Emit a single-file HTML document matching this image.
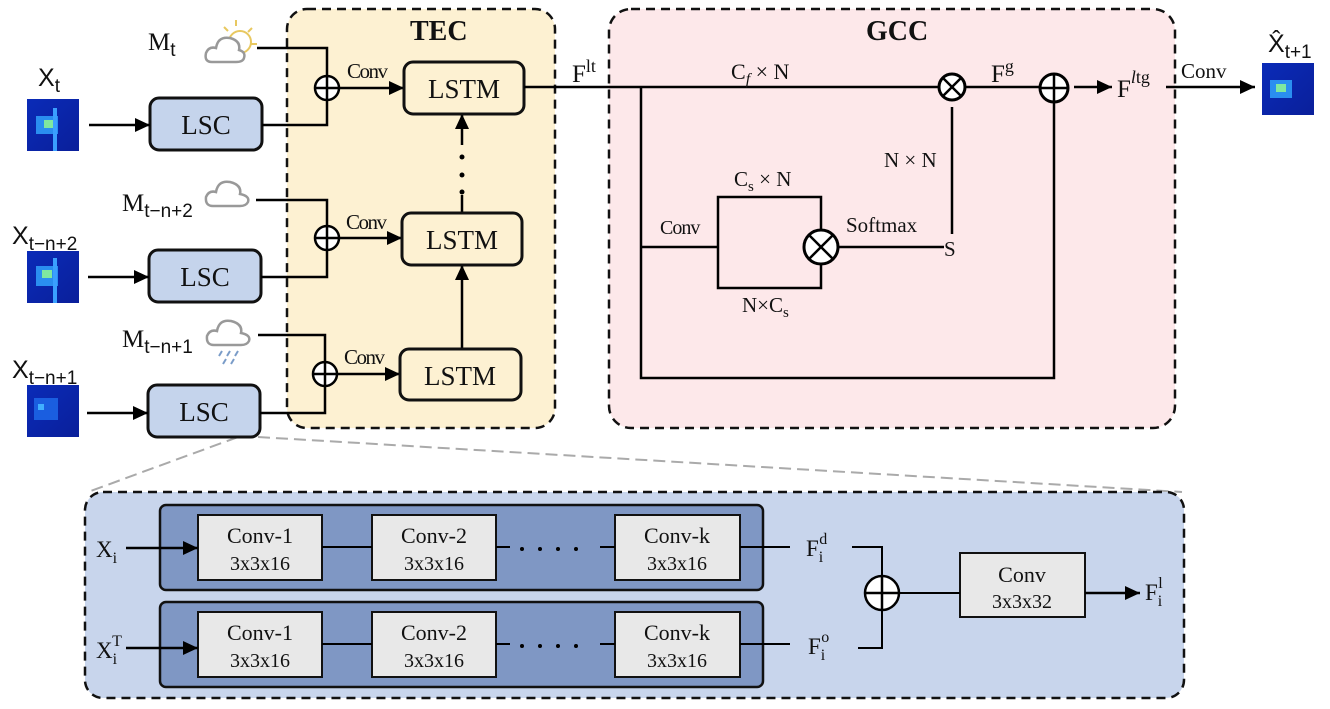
<!DOCTYPE html>
<html><head><meta charset="utf-8"><style>
body{margin:0;background:#fff}
svg{display:block}
text{font-family:"Liberation Serif",serif;fill:#111}
</style></head><body>
<svg width="1330" height="709" viewBox="0 0 1330 709" xmlns="http://www.w3.org/2000/svg">
<defs>
<marker id="b" markerWidth="16" markerHeight="16" refX="15" refY="7" orient="auto" markerUnits="userSpaceOnUse"><path d="M0,0 L15,7 L0,14z" fill="#000"/></marker>
<linearGradient id="hm" x1="0" y1="0" x2="1" y2="1"><stop offset="0" stop-color="#0a2bb8"/><stop offset="1" stop-color="#0a1f9a"/></linearGradient>
</defs>
<rect x="287" y="9" width="268" height="419" rx="20" fill="#fdf1d2" stroke="#111" stroke-width="2.5" stroke-dasharray="9,6"/>
<rect x="609" y="9" width="566" height="419" rx="22" fill="#fde8ea" stroke="#111" stroke-width="2.5" stroke-dasharray="9,6"/>
<text x="410" y="40" font-size="28" font-weight="bold">TEC</text>
<text x="866" y="40" font-size="28" font-weight="bold">GCC</text>
<line x1="238" y1="437" x2="88" y2="492" stroke="#aaa" stroke-width="2" stroke-dasharray="12,6"/>
<line x1="258" y1="437" x2="1182" y2="492" stroke="#aaa" stroke-width="2" stroke-dasharray="12,6"/>
<g>
<rect x="27" y="99" width="52" height="52" fill="url(#hm)"/><rect x="36" y="116" width="22" height="18" fill="#2a8ef0"/><rect x="44" y="120" width="10" height="8" fill="#7fe8a0"/><rect x="53" y="108" width="4" height="43" fill="#3aa0ff"/>
<rect x="27" y="251" width="52" height="52" fill="url(#hm)"/><rect x="36" y="266" width="22" height="20" fill="#2a8ef0"/><rect x="42" y="270" width="10" height="8" fill="#7fe8a0"/><rect x="53" y="258" width="4" height="45" fill="#3aa0ff"/>
<rect x="27" y="385" width="52" height="52" fill="url(#hm)"/><rect x="34" y="398" width="24" height="22" fill="#1a5ee0"/><rect x="38" y="404" width="6" height="6" fill="#40b0ff"/>
<rect x="1262" y="63" width="52" height="52" fill="url(#hm)"/><rect x="1270" y="80" width="22" height="18" fill="#2a8ef0"/><rect x="1276" y="84" width="10" height="8" fill="#7fe8a0"/>
</g>
<text x="38" y="86" font-size="25" style="font-family:'Liberation Sans',sans-serif">X<tspan font-size="19" dy="6">t</tspan></text>
<text x="12" y="244" font-size="25" style="font-family:'Liberation Sans',sans-serif">X<tspan font-size="19" dy="6">t−n+2</tspan></text>
<text x="12" y="378" font-size="25" style="font-family:'Liberation Sans',sans-serif">X<tspan font-size="19" dy="6">t−n+1</tspan></text>
<text x="1268" y="52" font-size="25" style="font-family:'Liberation Sans',sans-serif">X̂<tspan font-size="19" dy="6">t+1</tspan></text>
<text x="148" y="50" font-size="25">M<tspan font-size="19" dy="6" style="font-family:'Liberation Sans',sans-serif">t</tspan></text>
<text x="122" y="211" font-size="25">M<tspan font-size="19" dy="6" style="font-family:'Liberation Sans',sans-serif">t−n+2</tspan></text>
<text x="122" y="347" font-size="25">M<tspan font-size="19" dy="6" style="font-family:'Liberation Sans',sans-serif">t−n+1</tspan></text>
<g fill="none" stroke-width="2.5">
<circle cx="240" cy="42" r="11" stroke="#e8c860" stroke-width="2"/>
<g stroke="#e8c860" stroke-width="2"><line x1="236" y1="20" x2="236" y2="26"/><line x1="252" y1="28" x2="248" y2="32"/><line x1="257" y1="44" x2="251" y2="44"/><line x1="224" y1="27" x2="228" y2="31"/></g>
<path d="M212,62 Q204,62 206,53 Q209,46 216,48 Q218,36 230,38 Q241,41 239,50 Q246,52 244,58 Q243,62 236,62Z" fill="#fff" stroke="#999"/>
<path d="M213,206 Q205,206 206,197 Q209,190 216,192 Q218,180 230,182 Q242,185 240,194 Q250,196 248,202 Q246,206 240,206Z" stroke="#999"/>
<path d="M214,345 Q206,345 207,336 Q210,329 217,331 Q219,319 231,321 Q243,324 241,333 Q251,335 249,341 Q247,345 241,345Z" stroke="#999"/>
<g stroke="#7a9cc8" stroke-width="2"><line x1="222" y1="351" x2="219" y2="356"/><line x1="230" y1="351" x2="227" y2="356"/><line x1="238" y1="351" x2="235" y2="356"/><line x1="226" y1="359" x2="223" y2="364"/><line x1="234" y1="359" x2="231" y2="364"/></g>
</g>
<g fill="#c5d4ec" stroke="#111" stroke-width="3">
<rect x="150" y="98" width="112" height="52" rx="9"/>
<rect x="149" y="250" width="112" height="52" rx="9"/>
<rect x="148" y="385" width="112" height="52" rx="9"/>
</g>
<g font-size="27" text-anchor="middle"><text x="206" y="134">LSC</text><text x="205" y="286">LSC</text><text x="204" y="421">LSC</text></g>
<g stroke="#000" stroke-width="2.5" fill="none">
<line x1="89" y1="125" x2="150" y2="125" marker-end="url(#b)"/>
<line x1="88" y1="277" x2="149" y2="277" marker-end="url(#b)"/>
<line x1="87" y1="413" x2="148" y2="413" marker-end="url(#b)"/>
<polyline points="257,48 327,48 327,125 262,125"/>
<polyline points="256,200 327,200 327,277 261,277"/>
<polyline points="258,335 325,335 325,413 260,413"/>
<line x1="340" y1="88" x2="404" y2="88" marker-end="url(#b)"/>
<line x1="340" y1="238" x2="402" y2="238" marker-end="url(#b)"/>
<line x1="338" y1="374" x2="400" y2="374" marker-end="url(#b)"/>
<line x1="462" y1="349" x2="462" y2="265" marker-end="url(#b)"/>
<line x1="462" y1="213" x2="462" y2="195"/>
<line x1="462" y1="145" x2="462" y2="114" marker-end="url(#b)"/>
</g>
<g fill="#000"><circle cx="462" cy="157" r="2.5"/><circle cx="462" cy="175" r="2.5"/><circle cx="462" cy="192" r="2.5"/></g>
<g fill="#fff" stroke="#000" stroke-width="2.5">
<circle cx="327" cy="88" r="12"/><circle cx="327" cy="238" r="12"/><circle cx="325" cy="374" r="12"/>
</g>
<g stroke="#000" stroke-width="2.5">
<line x1="315" y1="88" x2="339" y2="88"/><line x1="327" y1="76" x2="327" y2="100"/>
<line x1="315" y1="238" x2="339" y2="238"/><line x1="327" y1="226" x2="327" y2="250"/>
<line x1="313" y1="374" x2="337" y2="374"/><line x1="325" y1="362" x2="325" y2="386"/>
</g>
<g font-size="21" style="letter-spacing:-1.5px"><text x="347" y="78">Conv</text><text x="346" y="229">Conv</text><text x="344" y="364">Conv</text></g>
<g fill="#fdf1d2" stroke="#111" stroke-width="3">
<rect x="404" y="62" width="120" height="52" rx="9"/>
<rect x="402" y="213" width="120" height="52" rx="9"/>
<rect x="400" y="349" width="121" height="51" rx="9"/>
</g>
<g font-size="27" text-anchor="middle"><text x="464" y="98">LSTM</text><text x="462" y="249">LSTM</text><text x="460" y="385">LSTM</text></g>
<g stroke="#000" stroke-width="2.5" fill="none">
<line x1="524" y1="87" x2="938" y2="87"/>
<polyline points="641,87 641,378 1054,378 1054,102"/>
<line x1="641" y1="247" x2="718" y2="247"/>
<polyline points="821,230 821,197 718,197 718,288 821,288 821,264"/>
<line x1="838" y1="247" x2="944" y2="247"/>
<line x1="952" y1="107" x2="952" y2="234"/>
<line x1="966" y1="87" x2="1040" y2="87"/>
<line x1="1074" y1="87" x2="1112" y2="87" marker-end="url(#b)"/>
<line x1="1166" y1="87" x2="1255" y2="87" marker-end="url(#b)"/>
</g>
<g fill="#fff" stroke="#000" stroke-width="3">
<circle cx="952" cy="87" r="13"/><circle cx="1054" cy="88" r="14"/><circle cx="821" cy="247" r="17"/>
</g>
<g stroke="#000" stroke-width="2.5">
<line x1="943" y1="78" x2="961" y2="96"/><line x1="961" y1="78" x2="943" y2="96"/>
<line x1="1040" y1="88" x2="1068" y2="88"/><line x1="1054" y1="74" x2="1054" y2="102"/>
<line x1="809" y1="235" x2="833" y2="259"/><line x1="833" y1="235" x2="809" y2="259"/>
</g>
<text x="572" y="82" font-size="25">F<tspan font-size="18" dy="-10">lt</tspan></text>
<text x="731" y="79" font-size="22">C<tspan font-size="16" dy="5" font-style="italic">f</tspan><tspan dy="-5"> × N</tspan></text>
<text x="991" y="82" font-size="25">F<tspan font-size="18" dy="-10">g</tspan></text>
<text x="1117" y="97" font-size="25">F<tspan font-size="18" dy="-14"><tspan font-style="italic">l</tspan>tg</tspan></text>
<text x="1181" y="78" font-size="21">Conv</text>
<text x="884" y="167" font-size="21">N × N</text>
<text x="734" y="186" font-size="21">C<tspan font-size="15" dy="5">s</tspan><tspan dy="-5"> × N</tspan></text>
<text x="846" y="232" font-size="21">Softmax</text>
<text x="660" y="234" font-size="20" style="letter-spacing:-1px">Conv</text>
<text x="944" y="256" font-size="21">S</text>
<text x="742" y="312" font-size="21">N×C<tspan font-size="15" dy="5">s</tspan></text>
<rect x="85" y="492" width="1099" height="206" rx="18" fill="#c8d5ec" stroke="#111" stroke-width="2.5" stroke-dasharray="9,6"/>
<rect x="160" y="505" width="603" height="85" rx="6" fill="#7f97c4" stroke="#111" stroke-width="2.5"/>
<rect x="160" y="602" width="603" height="85" rx="6" fill="#7f97c4" stroke="#111" stroke-width="2.5"/>
<g fill="#e8e8e8" stroke="#111" stroke-width="2">
<rect x="198" y="515" width="124" height="65"/><rect x="372" y="515" width="124" height="65"/><rect x="615" y="515" width="125" height="65"/>
<rect x="198" y="612" width="124" height="65"/><rect x="372" y="612" width="124" height="65"/><rect x="615" y="612" width="125" height="65"/>
<rect x="960" y="553" width="125" height="64"/>
</g>
<g font-size="22" text-anchor="middle">
<text x="260" y="543">Conv-1</text><text x="260" y="570" font-size="20">3x3x16</text>
<text x="434" y="543">Conv-2</text><text x="434" y="570" font-size="20">3x3x16</text>
<text x="677" y="543">Conv-k</text><text x="677" y="570" font-size="20">3x3x16</text>
<text x="260" y="640">Conv-1</text><text x="260" y="667" font-size="20">3x3x16</text>
<text x="434" y="640">Conv-2</text><text x="434" y="667" font-size="20">3x3x16</text>
<text x="677" y="640">Conv-k</text><text x="677" y="667" font-size="20">3x3x16</text>
<text x="1022" y="582">Conv</text><text x="1022" y="608" font-size="20">3x3x32</text>
</g>
<g stroke="#000" stroke-width="2" fill="none">
<line x1="322" y1="547" x2="372" y2="547"/><line x1="496" y1="547" x2="510" y2="547"/><line x1="600" y1="547" x2="615" y2="547"/>
<line x1="322" y1="644" x2="372" y2="644"/><line x1="496" y1="644" x2="510" y2="644"/><line x1="600" y1="644" x2="615" y2="644"/>
<line x1="740" y1="547" x2="790" y2="547"/><line x1="740" y1="644" x2="790" y2="644"/>
<polyline points="852,547 882,547 882,576"/><polyline points="858,648 882,648 882,610"/>
<line x1="899" y1="593" x2="960" y2="593"/>
</g>
<g stroke="#000" stroke-width="2.5">
<line x1="126" y1="548" x2="198" y2="548" marker-end="url(#b)"/>
<line x1="126" y1="648" x2="198" y2="648" marker-end="url(#b)"/>
<line x1="1085" y1="593" x2="1140" y2="593" marker-end="url(#b)"/>
</g>
<g fill="#000"><circle cx="522" cy="549" r="2"/><circle cx="540" cy="549" r="2"/><circle cx="558" cy="549" r="2"/><circle cx="576" cy="549" r="2"/>
<circle cx="522" cy="646" r="2"/><circle cx="540" cy="646" r="2"/><circle cx="558" cy="646" r="2"/><circle cx="576" cy="646" r="2"/></g>
<circle cx="882" cy="593" r="17" fill="#fff" stroke="#000" stroke-width="2.5"/>
<g stroke="#000" stroke-width="2.5"><line x1="865" y1="593" x2="899" y2="593"/><line x1="882" y1="576" x2="882" y2="610"/></g>
<text x="96" y="557" font-size="23">X<tspan font-size="16" dy="6">i</tspan></text>
<text x="96" y="658" font-size="23">X<tspan font-size="16" dy="6">i</tspan><tspan font-size="16" dx="-5" dy="-18">T</tspan></text>
<text x="806" y="556" font-size="23">F<tspan font-size="16" dy="6">i</tspan><tspan font-size="16" dx="-4" dy="-18">d</tspan></text>
<text x="808" y="654" font-size="23">F<tspan font-size="16" dy="6">i</tspan><tspan font-size="16" dx="-4" dy="-18">o</tspan></text>
<text x="1145" y="600" font-size="23">F<tspan font-size="16" dy="6">i</tspan><tspan font-size="16" dx="-4" dy="-18">l</tspan></text>
</svg>
</body></html>
